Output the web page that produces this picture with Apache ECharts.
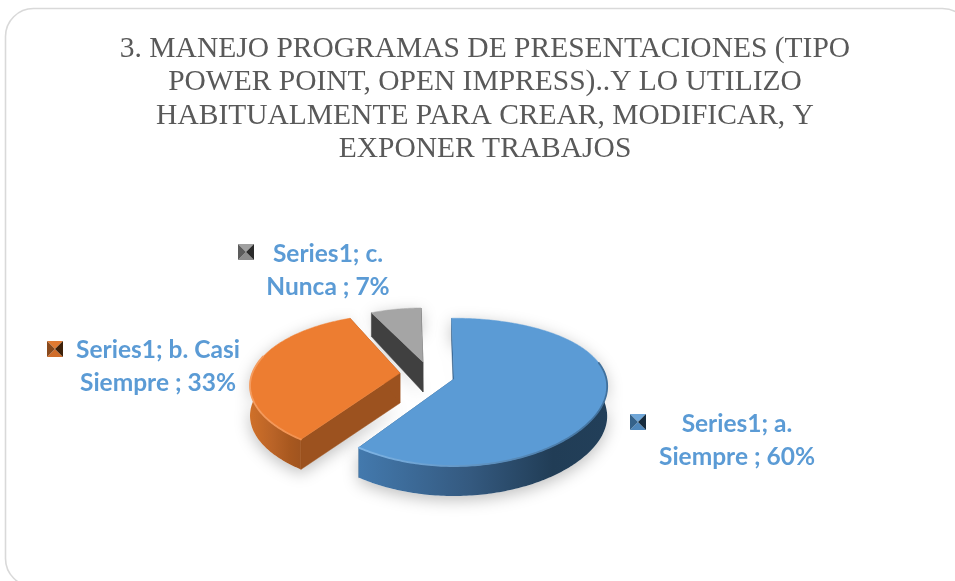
<!DOCTYPE html>
<html>
<head>
<meta charset="utf-8">
<style>html,body{margin:0;padding:0;background:#fff}#c{width:955px;height:581px}</style>
<script src="https://cdn.jsdelivr.net/npm/echarts@6/dist/echarts.min.js"></script>
</head>
<body>
<div id="c"></div>
<script>
var titleLines = [
  '3. MANEJO PROGRAMAS DE PRESENTACIONES (TIPO',
  'POWER POINT, OPEN IMPRESS)..Y LO UTILIZO',
  'HABITUALMENTE PARA CREAR, MODIFICAR, Y',
  'EXPONER TRABAJOS'
];
var seriesName = 'Series1';
var categories = ['a. Siempre', 'b. Casi Siempre', 'c. Nunca'];
var values = [60, 33, 7];
var labelFirstLines = ['Series1; a.', 'Series1; b. Casi', 'Series1; c.'];
var labelSecondLines = ['Siempre ; 60%', 'Siempre ; 33%', 'Nunca ; 7%'];

// 3D look of each slice
var LOOK = [
  {top:'#5b9bd5', wall:'#2f5a84', rim:['#7fb5e6','#3f6f9b'], side:['#4379ad','#34597f','#213d56','#223f59'],
   apex:[454,379], scale:1.012, kx:0.10, biasStart:0, biasEnd:0, key:['#6fa6d8','#35628a','#4f87bb','#172b3d']},
  {top:'#ed7d31', wall:'#9c521f', rim:['#f59e62','#f2904e'], side:['#cf7029','#b96327','#a8581f','#a0541f'],
   apex:[400,373], scale:0.98, kx:0.178, biasStart:0, biasEnd:3, key:['#e07a32','#8a4a1c','#d06d2a','#3d2009']},
  {top:'#a5a5a5', wall:'#404040', rim:null, side:['#6e6e6e','#6e6e6e','#6e6e6e','#6e6e6e'],
   apex:[423,362], scale:0.9, kx:0.178, biasStart:0, biasEnd:0, key:['#a0a0a0','#5c5c5c','#8c8c8c','#2b2b2b']}
];
var RX = 150.6, RY = 70.7, K = 0.178, DEPTH = 30, START_DEG = -1;
var LABELS = [
  {x:737, y1:424, y2:457, keyX:630, keyY:414},
  {x:158, y1:350, y2:383, keyX:47, keyY:341},
  {x:328, y1:254, y2:287, keyX:238, keyY:244}
];

var total = values.reduce(function(a,b){return a+b;},0);
function sliceAngles(i){
  var s = 0; for (var j=0;j<i;j++) s += values[j];
  var a0 = (START_DEG + LOOK[i].biasStart + s/total*360) * Math.PI/180;
  var a1 = (START_DEG + LOOK[i].biasEnd + (s+values[i])/total*360) * Math.PI/180;
  return [a0,a1];
}
// disk point -> screen point with perspective
function proj(look, ang){
  var x = Math.sin(ang), y = -Math.cos(ang);
  var s = 1/(1-K*y), sx = 1/(1-look.kx*y), R = look.scale;
  return [look.apex[0]+R*RX*x*sx, look.apex[1]+R*RY*y*s, y];
}
function down(p){
  var d = DEPTH - 7*Math.max(0,-p[2]);
  return [p[0], p[1]+d];
}
function arc(look,a0,a1){
  var pts=[], n=Math.max(8,Math.round((a1-a0)*60));
  for (var i=0;i<=n;i++) pts.push(proj(look,a0+(a1-a0)*i/n));
  return pts;
}
function xy(p){return [p[0],p[1]];}
function grad(cols){
  var st=[0,0.45,0.78,1].map(function(o,i){return {offset:o,color:cols[i]};});
  return new echarts.graphic.LinearGradient(0,0,1,0,st);
}
function silhouette(look,a){
  var top=arc(look,a[0],a[1]);
  var bottom=top.map(down).reverse();
  var ap=look.apex;
  return top.map(xy).concat(bottom).concat([[ap[0],ap[1]+DEPTH]]);
}
function renderShadow(params,api){
  var i=api.value(0), look=LOOK[i], a=sliceAngles(i);
  return {type:'polygon',shape:{points:silhouette(look,a)},
    style:{fill:'#ffffff',shadowBlur:16,shadowColor:'rgba(0,0,0,0.26)',shadowOffsetX:0,shadowOffsetY:4},silent:true};
}
function renderSlice(params,api){
  var i=api.value(0), look=LOOK[i], a=sliceAngles(i), kids=[];
  var top=arc(look,a[0],a[1]), ap=look.apex, apD=[ap[0],ap[1]+DEPTH];
  [top[0],top[top.length-1]].forEach(function(p){
    kids.push({type:'polygon',shape:{points:[ap,xy(p),down(p),apD]},
      style:{fill:look.wall,stroke:look.wall,lineWidth:0.5}});
  });
  var vis=top.filter(function(p){return p[2]>-0.15;});
  if(vis.length>1){
    kids.push({type:'polygon',shape:{points:vis.map(xy).concat(vis.map(down).reverse())},
      style:{fill:grad(look.side)}});
  }
  kids.push({type:'polygon',shape:{points:[ap].concat(top.map(xy))},
    style:{fill:look.top,stroke:look.top,lineWidth:0.5}});
  var rimPts=top.filter(function(p){return p[2]>-0.25;}).map(xy);
  if(look.rim && rimPts.length>1){
    kids.push({type:'polyline',shape:{points:rimPts},
      style:{fill:null,lineWidth:1.8,lineCap:'round',
        stroke:new echarts.graphic.LinearGradient(0,0,1,0,[{offset:0,color:look.rim[0]},{offset:1,color:look.rim[1]}])}});
  }
  return {type:'group',children:kids};
}
function renderLabel(params,api){
  var i=api.value(0), L=LABELS[i], c=LOOK[i].key, x=L.keyX, y=L.keyY, w=16, m=[x+w/2,y+w/2];
  var tl=[x,y],tr=[x+w,y],br=[x+w,y+w],bl=[x,y+w];
  var font='bold 24.5px Lato, "Open Sans", sans-serif';
  function tri(A,B,col){return {type:'polygon',shape:{points:[A,B,m]},style:{fill:col}};}
  function txt(s,yy){return {type:'text',style:{text:s,x:L.x,y:yy,font:font,fill:'#5b9bd5',align:'center',verticalAlign:'middle'}};}
  return {type:'group',children:[
    tri(tl,tr,c[0]),tri(bl,br,c[2]),tri(tl,bl,c[1]),tri(tr,br,c[3]),
    txt(labelFirstLines[i],L.y1),txt(labelSecondLines[i],L.y2)
  ]};
}
var order=[2,1,0];
var sliceData=order.map(function(i){return {value:[i,values[i]],name:categories[i]};});
var chart=echarts.init(document.getElementById('c'),null,{renderer:'canvas'});
chart.setOption({
  animation:false,
  backgroundColor:'#ffffff',
  title:{
    text:titleLines.join('\n'),
    left:480,top:27,textAlign:'center',
    textStyle:{fontFamily:'"Liberation Serif", serif',fontSize:29.5,fontWeight:'normal',color:'#595959',lineHeight:33.6}
  },
  graphic:[{type:'rect',z:-1,silent:true,shape:{x:5.5,y:8.5,width:965,height:578,r:28},
    style:{fill:'#ffffff',stroke:'#d9d9d9',lineWidth:1.6}}],
  series:[
    {type:'custom',name:seriesName,coordinateSystem:'none',renderItem:renderShadow,z:1,silent:true,data:sliceData},
    {type:'custom',name:seriesName,coordinateSystem:'none',renderItem:renderSlice,z:2,silent:true,data:sliceData},
    {type:'custom',name:seriesName,coordinateSystem:'none',renderItem:renderLabel,z:3,silent:true,data:sliceData}
  ]
});
</script>
</body>
</html>
